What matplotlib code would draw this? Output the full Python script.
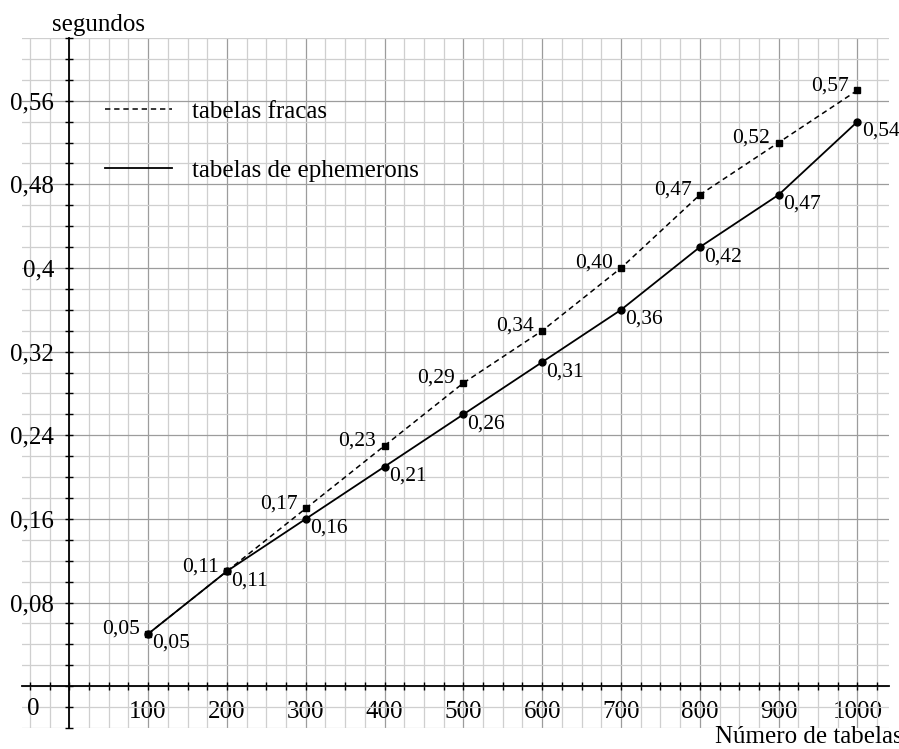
import matplotlib
matplotlib.use("Agg")
import matplotlib.pyplot as plt
from matplotlib.ticker import MultipleLocator, FuncFormatter

# ----------------------------
# Data
# ----------------------------
n_tables = [100, 200, 300, 400, 500, 600, 700, 800, 900, 1000]
weak_times = [0.05, 0.11, 0.17, 0.23, 0.29, 0.34, 0.40, 0.47, 0.52, 0.57]
ephemeron_times = [0.05, 0.11, 0.16, 0.21, 0.26, 0.31, 0.36, 0.42, 0.47, 0.54]

x_ticks = [100, 200, 300, 400, 500, 600, 700, 800, 900, 1000]
y_ticks = [0.08, 0.16, 0.24, 0.32, 0.40, 0.48, 0.56]

plt.rcParams["font.family"] = ["Liberation Serif", "DejaVu Serif"]


def comma(v):
    return f"{v:.2f}".replace(".", ",")


def tick_fmt(v, pos=None):
    return f"{v:g}".replace(".", ",")


fig = plt.figure(figsize=(8.99, 7.49), dpi=100)
ax = fig.add_axes([22 / 899, 21 / 749, 867 / 899, 690 / 749])

ax.set_xlim(-60, 1040)
ax.set_ylim(-0.04, 0.62)

# grid
ax.xaxis.set_major_locator(plt.FixedLocator(x_ticks))
ax.yaxis.set_major_locator(plt.FixedLocator(y_ticks))
ax.xaxis.set_minor_locator(MultipleLocator(25))
ax.yaxis.set_minor_locator(MultipleLocator(0.02))
ax.grid(which="minor", color="#cfcfcf", linewidth=0.9)
ax.grid(which="major", color="#9c9c9c", linewidth=0.9)
ax.set_axisbelow(True)

# axes through origin
ax.spines["left"].set_position(("data", 0))
ax.spines["bottom"].set_position(("data", 0))
ax.spines["top"].set_visible(False)
ax.spines["right"].set_visible(False)
for s in ("left", "bottom"):
    ax.spines[s].set_linewidth(1.3)
    ax.spines[s].set_zorder(3)

ax.yaxis.set_major_formatter(FuncFormatter(tick_fmt))
ax.tick_params(which="both", direction="inout", length=6, width=1,
               labelsize=18, pad=8)

# zero label sits left of the vertical axis
ax.text(-46, -0.0215, "0", fontsize=18, ha="center", va="center")

# series
ax.plot(n_tables, weak_times, color="black", linestyle=(0, (3.5, 2.5)),
        linewidth=1.1, marker="s", markersize=4, label="tabelas fracas",
        zorder=4)
ax.plot(n_tables, ephemeron_times, color="black", linestyle="-",
        linewidth=1.3, marker="o", markersize=5,
        label="tabelas de ephemerons", zorder=5)

for x, y in zip(n_tables, weak_times):
    ax.annotate(comma(y), (x, y), xytext=(-6, 0), textcoords="offset points",
                ha="right", va="baseline", fontsize=15.5)
for x, y in zip(n_tables, ephemeron_times):
    ax.annotate(comma(y), (x, y), xytext=(3, 0), textcoords="offset points",
                ha="left", va="top", fontsize=15.5)

leg = ax.legend(loc="upper left", bbox_to_anchor=(105 / 899, 1 - 100 / 749),
                bbox_transform=fig.transFigure, frameon=False, fontsize=18,
                handlelength=2.68, handletextpad=0.8, labelspacing=1.47,
                borderpad=0, borderaxespad=0)
for h in leg.legend_handles:
    h.set_marker("")

fig.text(52 / 899, 1 - 31 / 749, "segundos", fontsize=18, va="baseline")
fig.text(715 / 899, 1 - 743 / 749, "Número de tabelas", fontsize=18,
         va="baseline")

fig.savefig("out.png", dpi=100)
